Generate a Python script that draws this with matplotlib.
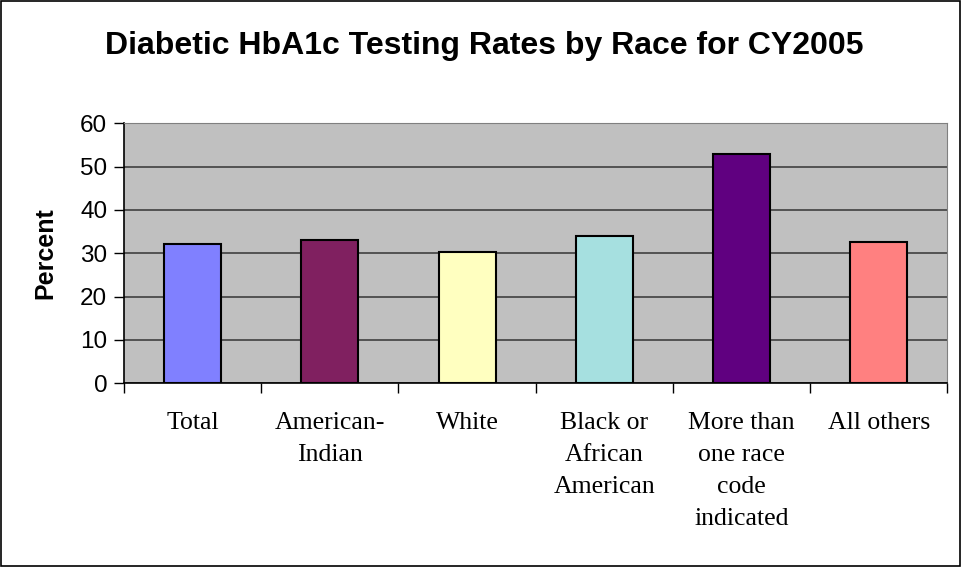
import matplotlib.pyplot as plt
import numpy as np

categories = ["Total", "American-\nIndian", "White", "Black or\nAfrican\nAmerican",
              "More than\none race\ncode\nindicated", "All others"]
values = [32.1, 33.1, 30.3, 34.1, 53.0, 32.6]
colors = ["#8080FF", "#802060", "#FFFFC0", "#A6E0E0", "#600080", "#FF8080"]

fig = plt.figure(figsize=(9.63, 5.67), dpi=100)
ax = fig.add_axes([0.1288, 0.324, 0.855, 0.4585])

x = np.arange(len(categories))
ax.bar(x, values, width=0.415, color=colors, edgecolor="black", linewidth=1.5, zorder=3)

ax.set_facecolor("#C0C0C0")
ax.set_xlim(-0.5, len(categories) - 0.5)
ax.set_ylim(0, 60)
ax.set_yticks(range(0, 61, 10))
ax.yaxis.grid(True, color="#404040", linewidth=1.2, zorder=1)

# category labels centred, ticks on category boundaries
ax.set_xticks(x)
ax.set_xticklabels(categories, fontfamily="Liberation Serif", fontsize=18.5, linespacing=1.57, va="top")
ax.tick_params(axis="x", which="major", length=0, pad=21)
ax.set_xticks(np.arange(-0.5, len(categories)), minor=True)
ax.tick_params(axis="x", which="minor", length=7, width=1, color="black", direction="out")
ax.tick_params(axis="y", length=7, width=1, direction="out", labelsize=17.5, pad=5)
for lbl in ax.get_yticklabels():
    lbl.set_fontfamily("Liberation Sans")

for side in ["top", "right"]:
    ax.spines[side].set_color("#808080")
ax.spines["left"].set_linewidth(1.2)
ax.spines["bottom"].set_linewidth(1.2)

ax.set_ylabel("Percent", fontfamily="Liberation Sans", fontweight="bold", fontsize=18)
ax.yaxis.set_label_coords(-0.081, 0.5)

fig.text(0.503, 0.918, "Diabetic HbA1c Testing Rates by Race for CY2005",
         ha="center", va="center", fontfamily="Liberation Sans", fontweight="bold", fontsize=23)

# outer frame of the chart
fig.patches.append(plt.Rectangle((0.001, 0.001), 0.996, 0.997, transform=fig.transFigure,
                                 fill=False, edgecolor="black", linewidth=1.2))

fig.savefig("out.png", dpi=100, facecolor="white")
